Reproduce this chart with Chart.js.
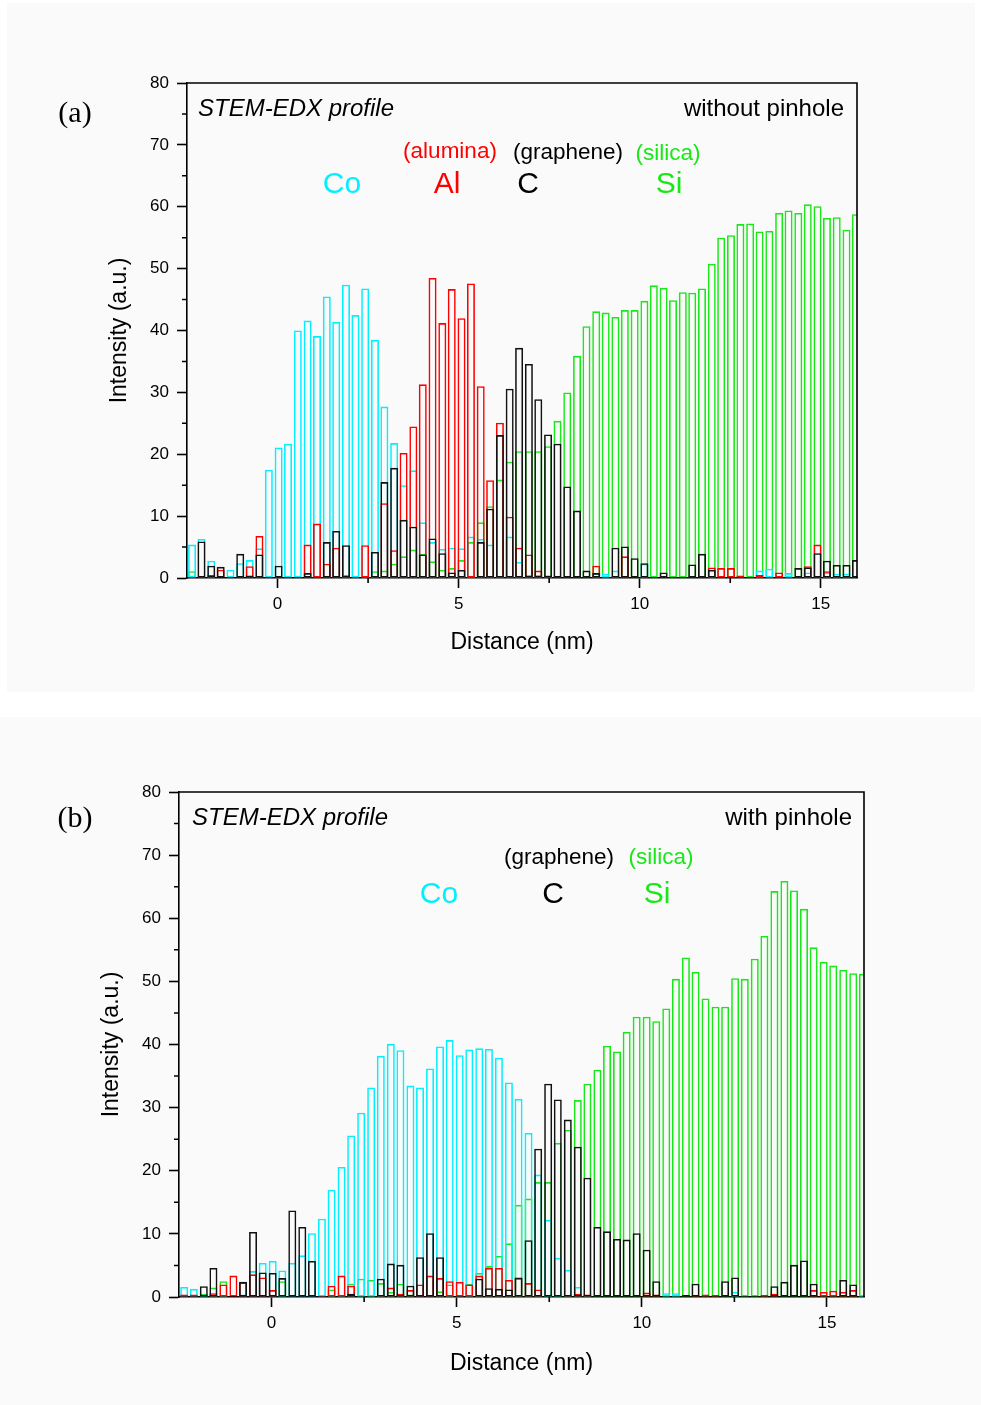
<!DOCTYPE html>
<html>
<head>
<meta charset="utf-8">
<title>STEM-EDX profiles</title>
<script src="https://cdn.jsdelivr.net/npm/chart.js@4.4.1/dist/chart.umd.min.js"></script>
<style>
  html, body { margin: 0; padding: 0; background: #ffffff; }
  #page { position: relative; width: 981px; height: 1405px; overflow: hidden;
          font-family: 'Liberation Sans', Arial, sans-serif; color: #000; }
  .bg { position: absolute; background: #fafafa; }
  canvas { position: absolute; left: 0; }
  .lbl { position: absolute; white-space: nowrap; line-height: 1; }
  .mid { transform: translate(-50%, -50%); }
  .vmid { transform: translateY(-50%); }
  .panel-id { font-family: 'Liberation Serif', 'Times New Roman', serif; font-size: 30px; }
  .head { font-size: 24px; }
  .phase { font-size: 22.5px; }
  .elem { font-size: 30px; }
</style>
</head>
<body>
<div id="page">
  <div class="bg" style="left:7px;top:3px;width:968px;height:689px;"></div>
  <div class="bg" style="left:0;top:717px;width:981px;height:688px;"></div>

  <canvas id="chartA" width="981" height="700" style="top:0;"></canvas>
  <canvas id="chartB" width="981" height="705" style="top:700px;"></canvas>

  <!-- panel (a) annotations -->
  <div class="lbl panel-id mid" style="left:75px;top:112px;">(a)</div>
  <div class="lbl head vmid" style="left:198px;top:108px;font-style:italic;">STEM-EDX profile</div>
  <div class="lbl head vmid" style="right:137px;top:108px;">without pinhole</div>
  <div class="lbl phase mid" style="left:450px;top:151px;color:#ff0000;">(alumina)</div>
  <div class="lbl phase mid" style="left:568px;top:152px;color:#000;">(graphene)</div>
  <div class="lbl phase mid" style="left:668px;top:153px;color:#18e818;">(silica)</div>
  <div class="lbl elem mid" style="left:342px;top:183px;color:#00f0ff;">Co</div>
  <div class="lbl elem mid" style="left:447px;top:183px;color:#ff0000;">Al</div>
  <div class="lbl elem mid" style="left:528px;top:183px;color:#000;">C</div>
  <div class="lbl elem mid" style="left:669px;top:183px;color:#18e818;">Si</div>

  <!-- panel (b) annotations -->
  <div class="lbl panel-id mid" style="left:75px;top:817px;">(b)</div>
  <div class="lbl head vmid" style="left:192px;top:817px;font-style:italic;">STEM-EDX profile</div>
  <div class="lbl head vmid" style="right:129px;top:817px;">with pinhole</div>
  <div class="lbl phase mid" style="left:559px;top:857px;color:#000;">(graphene)</div>
  <div class="lbl phase mid" style="left:661px;top:857px;color:#18e818;">(silica)</div>
  <div class="lbl elem mid" style="left:439px;top:893px;color:#00f0ff;">Co</div>
  <div class="lbl elem mid" style="left:553px;top:893px;color:#000;">C</div>
  <div class="lbl elem mid" style="left:657px;top:893px;color:#18e818;">Si</div>
</div>

<script>
// Probe positions along the line scan (nm), shared by both profiles
const DISTANCE = [
  -2.36, -2.10, -1.83, -1.57, -1.30, -1.03, -0.77, -0.50, -0.24, 0.03,
   0.29,  0.56,  0.83,  1.09,  1.36,  1.62,  1.89,  2.15,  2.42, 2.69,
   2.95,  3.22,  3.48,  3.75,  4.01,  4.28,  4.55,  4.81,  5.08, 5.34,
   5.61,  5.87,  6.14,  6.41,  6.67,  6.94,  7.20,  7.47,  7.73, 8.00,
   8.27,  8.53,  8.80,  9.06,  9.33,  9.59,  9.86, 10.13, 10.39, 10.66,
  10.92, 11.19, 11.45, 11.72, 11.99, 12.25, 12.52, 12.78, 13.05, 13.31,
  13.58, 13.85, 14.11, 14.38, 14.64, 14.91, 15.17, 15.44, 15.71, 15.97
];

// Axis ticks
const X_MAJOR_STEP = 5;
const Y_MAJOR_STEP = 10;
const X_MINOR_TICKS = [2.5, 7.5, 12.5];
const Y_MINOR_TICKS = [5, 15, 25, 35, 45, 55, 65, 75];

// (a) without pinhole — intensities (a.u.)
const CO_A = [
  5.4, 6.3, 2.8, 0.0, 1.35, 2.4, 2.9, 4.8, 17.5, 21.1,
  21.7, 40.0, 41.6, 39.1, 45.5, 41.4, 47.4, 42.5, 46.8, 38.5,
  27.7, 21.8, 15.0, 17.4, 9.0, 5.8, 4.7, 4.9, 4.8, 6.7,
  6.3, 5.4, 0.3, 6.7, 2.6, 0.5, 0.5, 0.2, 0.0, 0.0,
  0.0, 0.0, 0.8, 0.7, 1.2, 0.0, 0.0, 2.3, 0.0, 0.0,
  0.0, 0.0, 0.0, 0.0, 0.2, 0.0, 0.0, 0.0, 0.0, 1.2,
  1.5, 0.0, 0.8, 0.0, 0.9, 0.0, 0.9, 0.7, 0.7, 0.0
];
const AL_A = [
  0.0, 0.2, 0.5, 1.35, 0.0, 0.0, 1.9, 6.8, 0.0, 0.0,
  0.0, 0.0, 5.4, 8.8, 2.3, 4.9, 0.0, 0.0, 5.3, 0.0,
  12.1, 4.5, 20.2, 24.5, 31.3, 48.5, 41.2, 46.7, 42.0, 47.6,
  31.0, 15.8, 25.1, 9.9, 4.9, 3.8, 1.2, 0.4, 0.0, 0.0,
  0.0, 0.0, 2.0, 0.0, 0.3, 3.5, 0.0, 0.0, 0.0, 0.0,
  0.0, 0.0, 0.0, 0.0, 1.7, 1.6, 1.6, 0.4, 0.0, 0.5,
  0.0, 0.9, 0.0, 0.0, 1.9, 5.4, 1.1, 0.0, 0.0, 0.0
];
const C_A = [
  0.0, 5.9, 2.0, 1.8, 0.0, 3.9, 0.4, 3.8, 0.0, 2.0,
  0.0, 0.0, 0.8, 0.0, 5.8, 7.6, 5.3, 0.0, 0.0, 4.2,
  15.5, 17.8, 9.4, 8.3, 3.8, 6.4, 4.0, 0.9, 1.3, 0.0,
  5.8, 11.2, 23.1, 30.6, 37.2, 34.6, 28.9, 23.2, 21.7, 14.8,
  10.9, 1.2, 0.8, 0.0, 4.9, 5.1, 3.2, 2.4, 0.0, 0.9,
  0.0, 0.0, 2.2, 3.9, 1.3, 0.0, 0.0, 0.0, 0.0, 0.0,
  0.0, 0.0, 0.0, 1.6, 1.7, 4.0, 2.8, 2.1, 2.1, 2.9
];
const SI_A = [
  1.1, 0.0, 0.3, 0.0, 0.0, 0.0, 0.0, 0.0, 0.0, 0.0,
  0.0, 0.0, 0.0, 0.0, 0.0, 0.0, 0.5, 0.3, 0.3, 1.1,
  1.2, 2.3, 3.5, 4.6, 3.9, 2.7, 1.3, 1.6, 2.9, 5.8,
  9.0, 11.6, 15.9, 18.8, 20.5, 20.5, 20.5, 21.3, 25.4, 30.0,
  35.9, 40.7, 43.1, 42.9, 42.2, 43.3, 43.3, 44.8, 47.3, 46.9,
  44.9, 46.2, 46.1, 46.8, 50.8, 55.0, 55.4, 57.2, 57.3, 56.0,
  56.1, 59.0, 59.4, 59.0, 60.4, 60.1, 58.2, 58.3, 56.3, 58.8
];

// (b) with pinhole — intensities (a.u.)
const CO_B = [
  1.6, 1.3, 0.4, 0.3, 0.3, 0.0, 0.4, 4.1, 5.4, 5.7,
  4.2, 5.4, 6.6, 10.1, 12.4, 17.0, 20.6, 25.6, 29.2, 33.2,
  38.2, 40.1, 39.1, 33.5, 33.2, 36.2, 39.7, 40.7, 38.3, 39.2,
  39.4, 39.3, 37.9, 34.0, 31.4, 26.0, 19.4, 12.2, 6.2, 4.3,
  1.6, 0.3, 0.0, 0.0, 0.0, 0.0, 0.0, 0.0, 0.0, 0.6,
  0.6, 0.0, 0.0, 0.0, 0.0, 0.0, 0.8, 0.0, 0.0, 0.0,
  0.0, 0.0, 0.0, 0.0, 0.0, 0.0, 0.0, 0.0, 0.0, 0.3
];
const AL_B = [
  0.4, 0.4, 0.0, 0.6, 2.0, 3.4, 2.3, 3.6, 3.1, 1.1,
  0.0, 0.0, 0.0, 0.0, 0.2, 1.8, 3.4, 1.8, 0.0, 0.0,
  0.3, 1.5, 0.5, 1.1, 2.0, 3.4, 3.0, 2.5, 2.4, 2.0,
  3.4, 4.6, 4.6, 2.7, 3.0, 2.2, 1.2, 0.0, 0.0, 0.3,
  0.5, 0.4, 0.0, 0.0, 0.0, 0.0, 0.0, 0.7, 0.4, 0.0,
  0.0, 0.0, 0.3, 0.4, 0.3, 0.0, 0.0, 0.0, 0.0, 0.3,
  0.5, 0.0, 0.0, 0.0, 1.1, 0.8, 1.0, 0.8, 1.1, 0.0
];
const C_B = [
  0.0, 0.0, 1.7, 4.6, 0.0, 0.0, 2.4, 10.3, 3.9, 3.8,
  3.0, 13.7, 11.1, 5.7, 0.0, 0.0, 0.0, 0.5, 0.0, 0.0,
  2.9, 5.3, 5.1, 1.8, 6.3, 10.1, 6.3, 0.0, 0.0, 0.0,
  2.9, 1.4, 1.3, 1.2, 3.1, 9.0, 23.5, 33.8, 31.3, 28.1,
  23.8, 18.9, 11.1, 10.4, 9.2, 9.1, 10.1, 7.5, 2.5, 0.0,
  0.0, 0.3, 2.1, 0.0, 0.0, 2.5, 3.1, 0.0, 0.0, 0.0,
  1.7, 2.4, 5.1, 5.8, 2.1, 0.0, 0.0, 2.7, 2.0, 0.0
];
const SI_B = [
  0.0, 0.0, 0.5, 1.5, 2.5, 0.0, 0.0, 0.0, 0.0, 0.0,
  2.5, 0.0, 0.0, 0.0, 0.0, 1.2, 0.3, 2.1, 2.9, 2.7,
  2.2, 0.8, 2.1, 0.4, 0.0, 0.0, 0.9, 2.0, 0.0, 2.1,
  3.8, 4.9, 6.5, 8.5, 14.6, 15.6, 18.2, 18.2, 24.4, 26.5,
  31.2, 33.8, 36.0, 39.8, 38.9, 42.0, 44.4, 44.4, 43.7, 45.7,
  50.4, 53.8, 51.5, 47.3, 46.0, 46.0, 50.5, 50.4, 53.6, 57.2,
  64.3, 65.9, 64.4, 61.5, 55.4, 53.1, 52.5, 51.8, 51.3, 51.2
];

const COLORS = { C: '#111111', Al: '#ff0000', Co: '#00f0ff', Si: '#18e818' };

Chart.defaults.font.family = "'Liberation Sans', Arial, sans-serif";
Chart.defaults.color = '#000';

// Top/right frame of the plot box plus the short unlabelled minor ticks
const frameAndMinorTicks = {
  id: 'frameAndMinorTicks',
  afterDraw(chart) {
    const { ctx, chartArea: a, scales: { x, y } } = chart;
    ctx.save();
    ctx.strokeStyle = '#000';
    ctx.lineWidth = 1.6;
    ctx.beginPath();
    ctx.moveTo(a.left, a.top);
    ctx.lineTo(a.right, a.top);
    ctx.lineTo(a.right, a.bottom);
    X_MINOR_TICKS.forEach(v => {
      const px = x.getPixelForValue(v);
      ctx.moveTo(px, a.bottom);
      ctx.lineTo(px, a.bottom + 5);
    });
    Y_MINOR_TICKS.forEach(v => {
      const py = y.getPixelForValue(v);
      ctx.moveTo(a.left, py);
      ctx.lineTo(a.left - 5, py);
    });
    ctx.stroke();
    ctx.restore();
  }
};

function profileDataset(label, values, color) {
  return {
    label,
    data: DISTANCE.map((d, i) => ({ x: d, y: values[i] })),
    borderColor: color,
    backgroundColor: 'rgba(0,0,0,0)',
    borderWidth: 1.6,
    borderSkipped: false,
    inflateAmount: 0,
    grouped: false,
    barThickness: 8
  };
}

function buildProfile(canvasId, series, box) {
  return new Chart(document.getElementById(canvasId), {
    type: 'bar',
    data: { datasets: series.map(s => profileDataset(s.label, s.values, s.color)) },
    options: {
      responsive: false,
      animation: false,
      events: [],
      layout: { padding: box.padding },
      plugins: { legend: { display: false }, tooltip: { enabled: false } },
      scales: {
        x: {
          type: 'linear', min: -2.5, max: 16, offset: false,
          afterFit: s => { s.height = box.xHeight; },
          ticks: { stepSize: X_MAJOR_STEP, includeBounds: false, padding: 6, autoSkip: false,
                   maxRotation: 0, font: { size: 17 }, color: '#000', callback: v => String(v) },
          grid: { display: true, drawOnChartArea: false, drawTicks: true, tickLength: 10,
                  tickWidth: 1.6, tickColor: '#000', offset: false },
          border: { display: true, color: '#000', width: 1.6 },
          title: { display: true, text: 'Distance (nm)', color: '#000', font: { size: 23 },
                   padding: { top: 0, bottom: box.xTitlePad } }
        },
        y: {
          min: 0, max: 80,
          afterFit: s => { s.width = box.yWidth; },
          ticks: { stepSize: Y_MAJOR_STEP, padding: 8, font: { size: 17 }, color: '#000' },
          grid: { display: true, drawOnChartArea: false, drawTicks: true, tickLength: 10,
                  tickWidth: 1.6, tickColor: '#000' },
          border: { display: true, color: '#000', width: 1.6 },
          title: { display: true, text: 'Intensity (a.u.)', color: '#000', font: { size: 23 },
                   padding: { top: box.yTitlePad, bottom: 0 } }
        }
      }
    },
    plugins: [frameAndMinorTicks]
  });
}

// first dataset is painted last, so carbon sits on top and silicon underneath
buildProfile('chartA', [
  { label: 'C',  values: C_A,  color: COLORS.C },
  { label: 'Al', values: AL_A, color: COLORS.Al },
  { label: 'Co', values: CO_A, color: COLORS.Co },
  { label: 'Si', values: SI_A, color: COLORS.Si }
], { padding: { left: 100, top: 83, right: 124, bottom: 0 }, yWidth: 87, xHeight: 122, yTitlePad: 6, xTitlePad: 44 });

buildProfile('chartB', [
  { label: 'C',  values: C_B,  color: COLORS.C },
  { label: 'Al', values: AL_B, color: COLORS.Al },
  { label: 'Co', values: CO_B, color: COLORS.Co },
  { label: 'Si', values: SI_B, color: COLORS.Si }
], { padding: { left: 98, top: 92, right: 117, bottom: 0 }, yWidth: 81, xHeight: 108, yTitlePad: 0, xTitlePad: 28 });
</script>
</body>
</html>
